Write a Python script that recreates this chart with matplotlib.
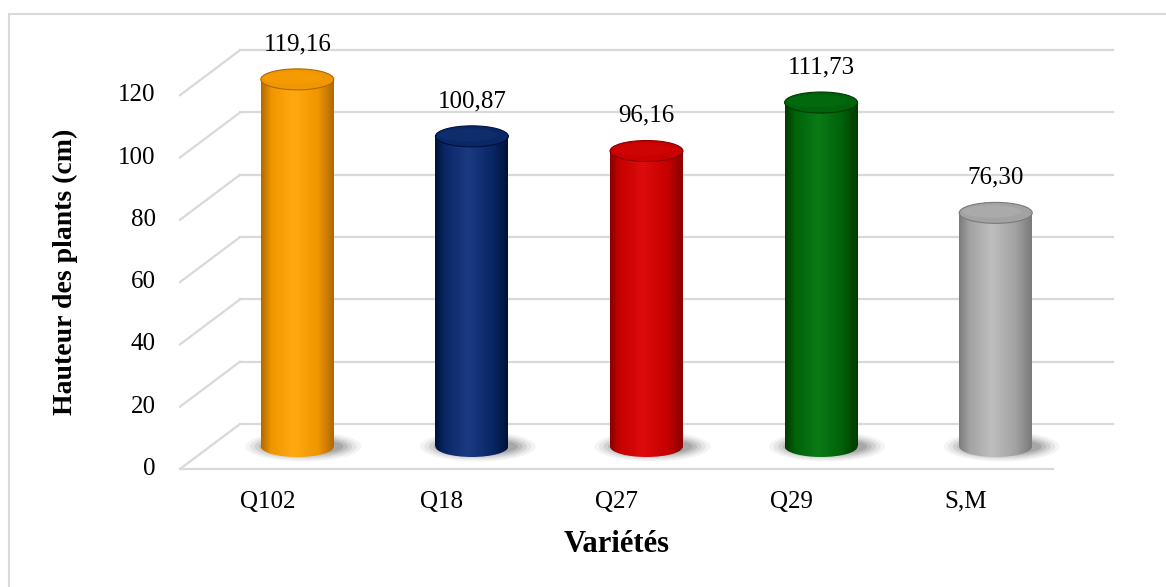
import numpy as np
import matplotlib
matplotlib.use("Agg")
import matplotlib.pyplot as plt
from matplotlib.patches import Ellipse, Rectangle
from matplotlib.colors import LinearSegmentedColormap

# data
varietes = ["Q102", "Q18", "Q27", "Q29", "S,M"]
hauteur = [119.16, 100.87, 96.16, 111.73, 76.30]
labels = ["119,16", "100,87", "96,16", "111,73", "76,30"]
yticks = [0, 20, 40, 60, 80, 100, 120]

# edge, base, highlight for each cylinder
palettes = [
    ("#b06800", "#f09600", "#ffa90f"),
    ("#00123a", "#0a2766", "#1b3a80"),
    ("#8a0000", "#c80000", "#dc0c0c"),
    ("#003a00", "#00620a", "#0a7a16"),
    ("#7a7a7a", "#a2a2a2", "#bebebe"),
]

plt.rcParams['font.family'] = ['Liberation Serif', 'DejaVu Serif']

fig = plt.figure(figsize=(11.66, 5.87), dpi=100)
ax = fig.add_axes([0, 0, 1, 1])
ax.set_axis_off()

# pixel mapping: category unit = 174.6 px, value unit = 3.115 px
px_x = 174.6
px_y = 3.115

# 3D depth offset (half depth) in data units
dx = 30 / px_x
dy = 22.5 / px_y

grid_c = "#d9d9d9"
n = len(varietes)
for v in yticks:
    ax.plot([-0.5 + dx, n - 0.5 + dx], [v + dy, v + dy], color=grid_c, lw=1.6, zorder=1)
    ax.plot([-0.5 - dx, -0.5 + dx], [v - dy, v + dy], color=grid_c, lw=1.6, zorder=1)
    ax.text(-0.5 - dx - 0.14, v - dy, str(v), ha="right", va="center", fontsize=18)
ax.plot([-0.5 - dx, n - 0.5 - dx], [-dy, -dy], color=grid_c, lw=1.6, zorder=1)

w = 73 / px_x
eh = 21 / px_y
for i, (h, pal) in enumerate(zip(hauteur, palettes)):
    edge, base, hi = pal
    cmap = LinearSegmentedColormap.from_list(
        "c%d" % i, [(0, edge), (0.14, base), (0.45, hi), (0.78, base), (1, edge)])
    # shadow
    for k, a in enumerate([0.06, 0.09, 0.12, 0.16, 0.2]):
        sw = (116 - k * 9) / px_x
        sh = (30 - k * 3.5) / px_y
        ax.add_patch(Ellipse((i + 6 / px_x, 0), sw, sh,
                             facecolor="#505050", alpha=a, lw=0, zorder=2))
    grad = np.linspace(0, 1, 256).reshape(1, -1)
    x0, x1 = i - w / 2, i + w / 2
    top = h - 1.3
    body = Rectangle((x0, 0), w, top, transform=ax.transData)
    bottom = Ellipse((i, 0), w, eh, transform=ax.transData)
    for clip in (body, bottom):
        im = ax.imshow(grad, cmap=cmap, aspect="auto", extent=(x0, x1, -eh, top),
                       zorder=3, interpolation="bilinear")
        im.set_clip_path(clip)
    ax.add_patch(Ellipse((i, top), w, eh, facecolor=base, edgecolor=edge, lw=0.8, zorder=4))
    ax.add_patch(Ellipse((i - 4 / px_x, top + 1.5 / px_y), w * 0.8, eh * 0.6,
                         facecolor=hi, alpha=0.3, lw=0, zorder=4))
    ax.text(i, h + 10, labels[i], ha="center", va="center", fontsize=18, zorder=5)
    ax.text(i - dx, -17.8, varietes[i], ha="center", va="center", fontsize=18)

ax.set_xlim(-0.5 - 210 / px_x, -0.5 + 956 / px_x)
ax.set_ylim((446.5 - 587) / px_y, 446.5 / px_y)

ax.text(-0.5 - 210 / px_x + 65 / px_x, 446.5 / px_y - 272 / px_y, "Hauteur des plants (cm)",
        rotation=90, ha="center", va="center", fontsize=20, fontweight="bold")
ax.text(-0.5 + 407 / px_x, 446.5 / px_y - 545 / px_y, "Variétés",
        ha="center", va="center", fontsize=22, fontweight="bold")

# chart area border (left and top edges visible)
fig.add_artist(plt.Line2D([9 / 1166, 9 / 1166], [0, 1 - 14 / 587], color=grid_c, lw=1.5))
fig.add_artist(plt.Line2D([9 / 1166, 1], [1 - 14 / 587, 1 - 14 / 587], color=grid_c, lw=1.5))

fig.savefig("out.png", dpi=100)
